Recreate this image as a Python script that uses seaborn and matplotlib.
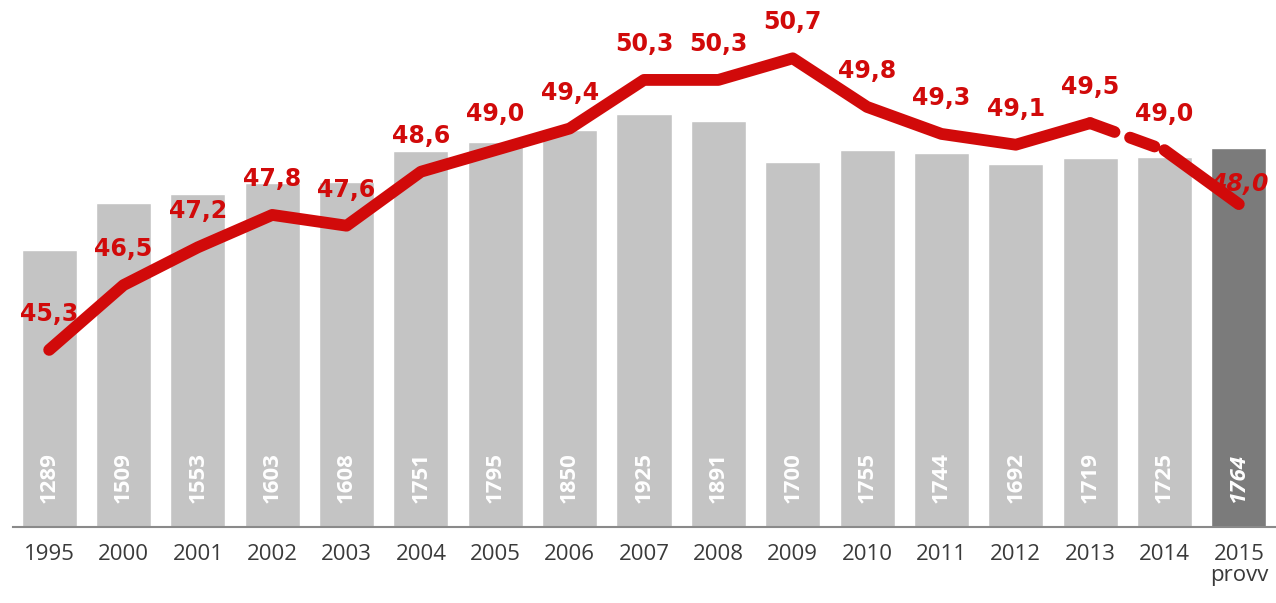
import matplotlib
matplotlib.use("Agg")
import matplotlib.pyplot as plt
import seaborn as sns
import pandas as pd

years = ["1995", "2000", "2001", "2002", "2003", "2004", "2005", "2006", "2007",
         "2008", "2009", "2010", "2011", "2012", "2013", "2014", "2015"]
tick_labels = years[:-1] + ["2015\nprovv"]
bar_values = [1289, 1509, 1553, 1603, 1608, 1751, 1795, 1850, 1925, 1891,
              1700, 1755, 1744, 1692, 1719, 1725, 1764]
line_values = [45.3, 46.5, 47.2, 47.8, 47.6, 48.6, 49.0, 49.4, 50.3, 50.3,
               50.7, 49.8, 49.3, 49.1, 49.5, 49.0, 48.0]

sns.set_theme(style="white")
plt.rcParams['font.family'] = ['Open Sans', 'DejaVu Sans']

light = "#c4c4c4"
dark = "#7b7b7b"
red = "#d10a0a"

fig = plt.figure(figsize=(12.76, 6.03), dpi=100)
ax = fig.add_axes([0.0094, 0.126, 0.9906, 0.874])

df = pd.DataFrame({"year": years, "value": bar_values})
palette = {y: (dark if i == len(years) - 1 else light) for i, y in enumerate(years)}
sns.barplot(data=df, x="year", y="value", hue="year", palette=palette,
            order=years, width=0.74, legend=False, ax=ax, saturation=1)

ax.set_xlim(-0.5, 16.5)
ax.set_ylim(0, 2456)
ax.set_xticks(range(len(years)))
ax.set_xticklabels(tick_labels, fontsize=16, color="#3a3a3a", linespacing=1.0)
ax.tick_params(axis="x", length=0, pad=12)
ax.set_yticks([])
ax.set_xlabel("")
ax.set_ylabel("")
for s in ["top", "right", "left"]:
    ax.spines[s].set_visible(False)
ax.spines["bottom"].set_color("#8a8a8a")
ax.spines["bottom"].set_linewidth(1.5)
ax.spines["bottom"].set_bounds(-0.48, 16.5)

for i, v in enumerate(bar_values):
    ax.annotate(str(v), xy=(i, 0), xytext=(0, 24), textcoords="offset pixels",
                rotation=90, ha="center", va="bottom", color="white",
                fontsize=16, fontweight="bold",
                fontstyle="italic" if i == len(years) - 1 else "normal")

ax2 = ax.twinx()
ax2.set_ylim(42.02, 51.78)
ax2.set_yticks([])
for s in ["top", "right", "left", "bottom"]:
    ax2.spines[s].set_visible(False)

xs = list(range(len(years)))
seg1 = pd.DataFrame({"x": xs[:15], "y": line_values[:15]})
seg2 = pd.DataFrame({"x": xs[14:16], "y": line_values[14:16]})
seg3 = pd.DataFrame({"x": xs[15:], "y": line_values[15:]})
kw = dict(color=red, linewidth=8.5, solid_capstyle="round", solid_joinstyle="round")
sns.lineplot(data=seg1, x="x", y="y", ax=ax2, **kw)
sns.lineplot(data=seg3, x="x", y="y", ax=ax2, **kw)
sns.lineplot(data=seg2, x="x", y="y", ax=ax2, color=red, linewidth=8.5,
             dashes=False, linestyle=(0, (2.2, 1.4)), dash_capstyle="round")
ax2.set_xlabel("")
ax2.set_ylabel("")
ax2.set_xlim(-0.5, 16.5)

for i, v in enumerate(line_values):
    last = i == len(years) - 1
    ax2.annotate(f"{v:.1f}".replace(".", ","), xy=(i, v),
                 xytext=(0, 20 if last else 36), textcoords="offset pixels",
                 ha="center", va="center", color=red, fontsize=17,
                 fontweight="bold", fontstyle="italic" if last else "normal",
                 family=["DejaVu Sans"])

fig.savefig("out.png", dpi=100)
